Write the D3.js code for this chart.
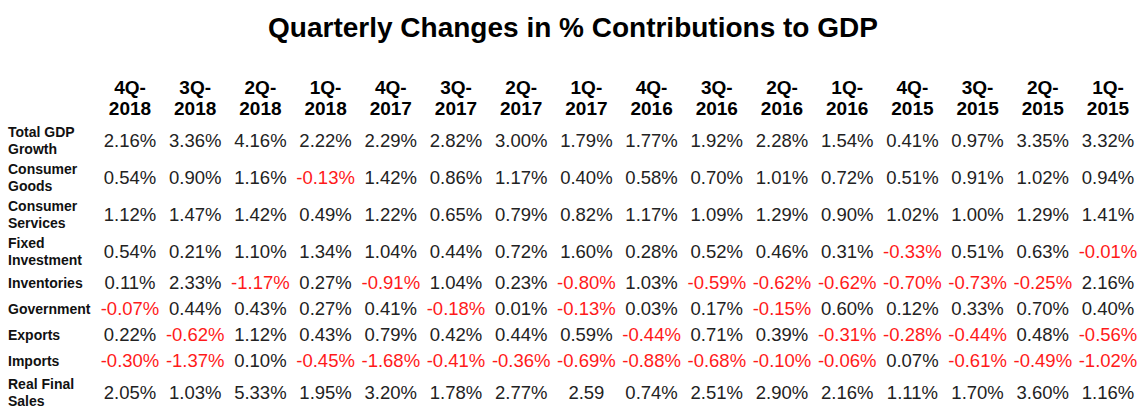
<!DOCTYPE html>
<html>
<head>
<meta charset="utf-8">
<script src="https://cdn.jsdelivr.net/npm/d3@7"></script>
<style>
  body { margin: 0; background: #fff; }
  text { font-family: 'Liberation Sans', Arial, sans-serif; }
</style>
</head>
<body>
<script>
// column headers (quarter, year)
var quarters = ['4Q-2018', '3Q-2018', '2Q-2018', '1Q-2018', '4Q-2017', '3Q-2017', '2Q-2017', '1Q-2017',
  '4Q-2016', '3Q-2016', '2Q-2016', '1Q-2016', '4Q-2015', '3Q-2015', '2Q-2015', '1Q-2015']

// row labels, split over lines the way the table shows them
var rowNames = ['Total GDP Growth', 'Consumer Goods', 'Consumer Services', 'Fixed Investment',
  'Inventories', 'Government', 'Exports', 'Imports', 'Real Final Sales']
var rowLines = [['Total GDP', 'Growth'], ['Consumer', 'Goods'], ['Consumer', 'Services'], ['Fixed', 'Investment'],
  ['Inventories'], ['Government'], ['Exports'], ['Imports'], ['Real Final', 'Sales']]

var totalGdp = [2.16, 3.36, 4.16, 2.22, 2.29, 2.82, 3.00, 1.79, 1.77, 1.92, 2.28, 1.54, 0.41, 0.97, 3.35, 3.32]
var consumerGoods = [0.54, 0.90, 1.16, -0.13, 1.42, 0.86, 1.17, 0.40, 0.58, 0.70, 1.01, 0.72, 0.51, 0.91, 1.02, 0.94]
var consumerServices = [1.12, 1.47, 1.42, 0.49, 1.22, 0.65, 0.79, 0.82, 1.17, 1.09, 1.29, 0.90, 1.02, 1.00, 1.29, 1.41]
var fixedInvestment = [0.54, 0.21, 1.10, 1.34, 1.04, 0.44, 0.72, 1.60, 0.28, 0.52, 0.46, 0.31, -0.33, 0.51, 0.63, -0.01]
var inventories = [0.11, 2.33, -1.17, 0.27, -0.91, 1.04, 0.23, -0.80, 1.03, -0.59, -0.62, -0.62, -0.70, -0.73, -0.25, 2.16]
var government = [-0.07, 0.44, 0.43, 0.27, 0.41, -0.18, 0.01, -0.13, 0.03, 0.17, -0.15, 0.60, 0.12, 0.33, 0.70, 0.40]
var exportsVals = [0.22, -0.62, 1.12, 0.43, 0.79, 0.42, 0.44, 0.59, -0.44, 0.71, 0.39, -0.31, -0.28, -0.44, 0.48, -0.56]
var importsVals = [-0.30, -1.37, 0.10, -0.45, -1.68, -0.41, -0.36, -0.69, -0.88, -0.68, -0.10, -0.06, 0.07, -0.61, -0.49, -1.02]
var realFinalSales = [2.05, 1.03, 5.33, 1.95, 3.20, 1.78, 2.77, 2.59, 0.74, 2.51, 2.90, 2.16, 1.11, 1.70, 3.60, 1.16]

// the one cell that the source printed without a percent sign
var noPercent = [['Real Final Sales', '1Q-2017']]

var values = [totalGdp, consumerGoods, consumerServices, fixedInvestment, inventories,
  government, exportsVals, importsVals, realFinalSales]

var width = 1146, height = 415

var svg = d3.select('body')
  .append('svg')
  .attr('width', width)
  .attr('height', height)

// title
svg.append('text')
  .attr('x', 573)
  .attr('y', 37)
  .attr('text-anchor', 'middle')
  .style('font-size', '28px')
  .style('font-weight', 'bold')
  .text('Quarterly Changes in % Contributions to GDP')

// columns
var x = d3.scaleBand()
  .domain(quarters)
  .range([97.4, 1140.6])

// rows: two-line rows are taller than one-line rows
var rowH = function (n) { return n > 1 ? 37 : 26 }
var tops = []
var acc = 121.5
rowLines.forEach(function (l) { tops.push(acc + rowH(l.length) / 2); acc += rowH(l.length) })
var y = d3.scaleOrdinal()
  .domain(rowNames)
  .range(tops)

// column headers
var head = svg.append('g')
head.selectAll('text')
    .data(quarters)
  .enter().append('text')
    .attr('x', function (d) { return x(d) + x.bandwidth() / 2 })
    .attr('y', 94)
    .attr('text-anchor', 'middle')
    .style('font-size', '19px')
    .style('font-weight', 'bold')
    .each(function (d) {
      var parts = d.split('-')
      d3.select(this).append('tspan')
        .attr('x', x(d) + x.bandwidth() / 2)
        .text(parts[0] + '-')
      d3.select(this).append('tspan')
        .attr('x', x(d) + x.bandwidth() / 2)
        .attr('dy', 20.5)
        .text(parts[1])
    })

// row labels
svg.append('g').selectAll('text')
    .data(rowNames)
  .enter().append('text')
    .attr('x', 8)
    .attr('y', function (d, i) { return y(d) - (rowLines[i].length - 1) * 8.5 + 5 })
    .style('font-size', '14px')
    .style('font-weight', 'bold')
    .style('fill', '#111')
    .each(function (d, i) {
      var sel = d3.select(this)
      rowLines[i].forEach(function (line, k) {
        sel.append('tspan')
          .attr('x', 8)
          .attr('dy', k === 0 ? 0 : 17)
          .text(line)
      })
    })

// cells
var cells = []
rowNames.forEach(function (r, i) {
  quarters.forEach(function (q, j) {
    var plain = noPercent.some(function (p) { return p[0] === r && p[1] === q })
    cells.push({row: r, q: q, v: values[i][j], plain: plain})
  })
})

svg.append('g').selectAll('text')
    .data(cells)
  .enter().append('text')
    .attr('x', function (d) { return x(d.q) + x.bandwidth() / 2 })
    .attr('y', function (d) { return y(d.row) })
    .attr('dy', '0.36em')
    .attr('text-anchor', 'middle')
    .style('font-size', '18.5px')
    .style('fill', function (d) { return d.v < 0 ? '#ff1a1a' : '#222' })
    .text(function (d) { return d.v.toFixed(2) + (d.plain ? '' : '%') })
</script>
</body>
</html>
